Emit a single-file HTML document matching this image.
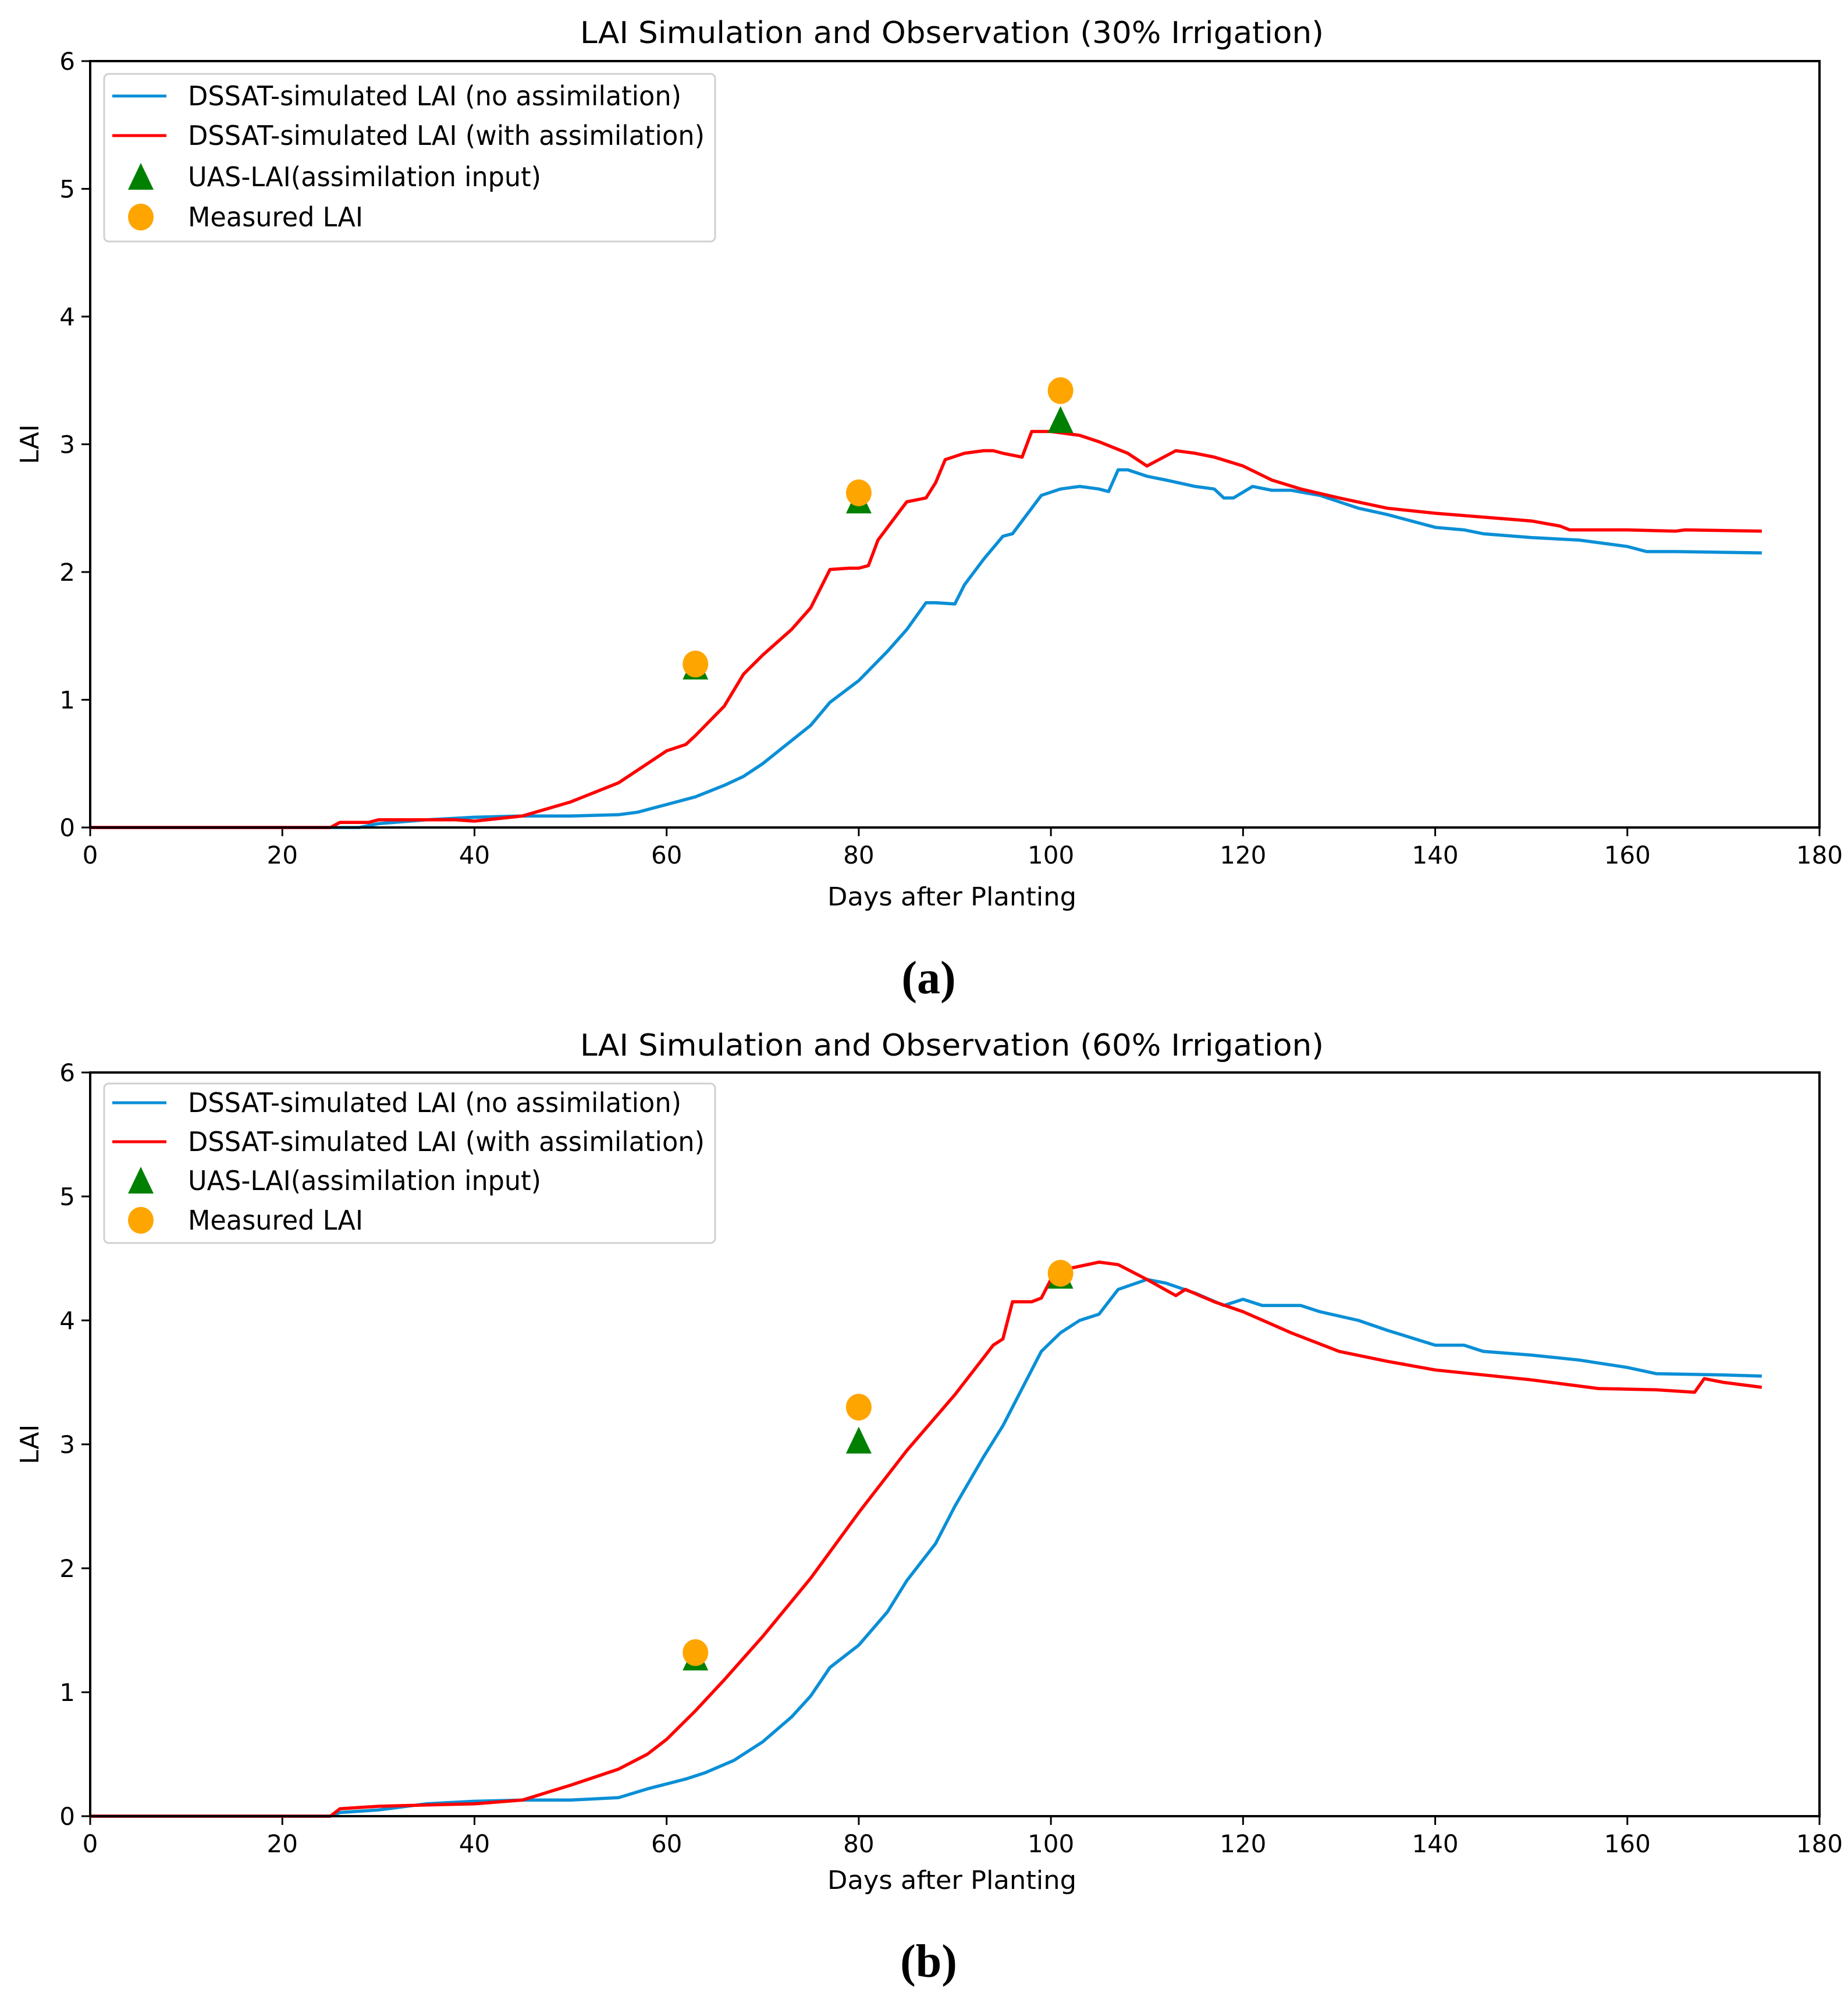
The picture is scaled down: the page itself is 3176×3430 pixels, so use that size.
<!DOCTYPE html>
<html><head><meta charset="utf-8"><style>
html,body{margin:0;padding:0;background:#fff;}
svg{display:block;font-family:"DejaVu Sans","Liberation Sans",sans-serif;}
</style></head><body>
<svg id="fig" width="3176" height="3430" viewBox="0 0 3176 3430" xmlns="http://www.w3.org/2000/svg">
<rect width="3176" height="3430" fill="#fff"/>
</svg>
<script>
// ---- data ----
const xTicks=[0,20,40,60,80,100,120,140,160,180];
const yTicks=[0,1,2,3,4,5,6];
const obsDays=[63,80,101];
// panel a (30% irrigation)
const aBlueDays=[0,28,30,35,40,45,50,55,57,60,63,66,68,70,72,75,77,80,83,85,87,88,90,91,93,95,96,97,99,101,103,105,106,107,108,110,112,115,117,118,119,121,123,125,128,132,135,140,143,145,150,155,160,162,165,174];
const aBlueLAI=[0,0,0.03,0.06,0.08,0.09,0.09,0.1,0.12,0.18,0.24,0.33,0.4,0.5,0.62,0.8,0.98,1.15,1.38,1.55,1.76,1.76,1.75,1.9,2.1,2.28,2.3,2.4,2.6,2.65,2.67,2.65,2.63,2.8,2.8,2.75,2.72,2.67,2.65,2.58,2.58,2.67,2.64,2.64,2.6,2.5,2.45,2.35,2.33,2.3,2.27,2.25,2.2,2.16,2.16,2.15];
const aRedDays=[0,25,26,29,30,38,40,45,50,55,58,60,62,63,66,68,70,73,75,77,79,80,81,82,84,85,87,88,89,91,93,94,95,97,98,100,103,105,108,110,111,113,115,117,120,123,126,130,135,140,145,150,153,154,160,165,166,174];
const aRedLAI=[0,0,0.04,0.04,0.06,0.06,0.05,0.09,0.2,0.35,0.5,0.6,0.65,0.72,0.95,1.2,1.35,1.55,1.72,2.02,2.03,2.03,2.05,2.25,2.45,2.55,2.58,2.7,2.88,2.93,2.95,2.95,2.93,2.9,3.1,3.1,3.07,3.02,2.93,2.83,2.87,2.95,2.93,2.9,2.83,2.72,2.65,2.58,2.5,2.46,2.43,2.4,2.36,2.33,2.33,2.32,2.33,2.32];
const aUAS=[1.25,2.55,3.18];
const aMeasured=[1.28,2.62,3.42];
// panel b (60% irrigation)
const bBlueDays=[0,25,26,30,35,40,45,50,55,58,62,64,67,70,73,75,77,80,83,85,88,90,93,95,97,99,101,103,105,107,110,112,115,118,120,122,124,126,128,132,135,140,143,145,150,155,160,163,170,174];
const bBlueLAI=[0,0,0.03,0.05,0.1,0.12,0.13,0.13,0.15,0.22,0.3,0.35,0.45,0.6,0.8,0.97,1.2,1.38,1.65,1.9,2.2,2.5,2.9,3.15,3.45,3.75,3.9,4.0,4.05,4.25,4.33,4.3,4.22,4.12,4.17,4.12,4.12,4.12,4.07,4.0,3.92,3.8,3.8,3.75,3.72,3.68,3.62,3.57,3.56,3.55];
const bRedDays=[0,25,26,30,35,40,45,50,55,58,60,63,66,70,75,80,85,90,93,94,95,96,98,99,100,102,105,107,110,113,114,117,120,125,130,135,140,145,150,155,157,163,167,168,170,174];
const bRedLAI=[0,0,0.06,0.08,0.09,0.1,0.13,0.25,0.38,0.5,0.62,0.85,1.1,1.45,1.92,2.45,2.95,3.4,3.7,3.8,3.85,4.15,4.15,4.18,4.33,4.42,4.47,4.45,4.33,4.2,4.25,4.15,4.07,3.9,3.75,3.67,3.6,3.56,3.52,3.47,3.45,3.44,3.42,3.53,3.5,3.46];
const bUAS=[1.27,3.02,4.35];
const bMeasured=[1.32,3.3,4.38];

const NS="http://www.w3.org/2000/svg";
const svg=document.getElementById('fig');
function mk(tag,attrs,parent){const e=document.createElementNS(NS,tag);for(const k in attrs)e.setAttribute(k,attrs[k]);(parent||svg).appendChild(e);return e;}

function panel(p){
  const g=mk('g',{});
  
  
  const X0=155,X1=3127,Y0=p.y0,Y6=p.y6;
  const sx=d=>X0+(d/180)*(X1-X0);
  const sy=v=>Y0+(v/6)*(Y6-Y0);
  const t=mk('text',{x:1636,y:p.titleY,'font-size':52,'text-anchor':'middle',textLength:1278,lengthAdjust:'spacingAndGlyphs',fill:'#000'},g);
  t.textContent=p.title;
  
  
  xTicks.forEach(v=>{
    const l=mk('line',{x1:sx(v),x2:sx(v),y1:Y0,y2:Y0+15,stroke:'#000','stroke-width':3},g);
    
    
    const tx=mk('text',{x:sx(v),y:Y0+62,'font-size':42,'text-anchor':'middle',fill:'#000'},g);
    tx.textContent=v;
    
    
  });
  yTicks.forEach(v=>{
    const l=mk('line',{x1:X0-15,x2:X0,y1:sy(v),y2:sy(v),stroke:'#000','stroke-width':3},g);
    
    
    const tx=mk('text',{x:X0-26,y:sy(v)+15,'font-size':42,'text-anchor':'end',fill:'#000'},g);
    tx.textContent=v;
    
    
  });
  const xl=mk('text',{x:1636,y:p.xlabY,'font-size':44,'text-anchor':'middle',textLength:428,lengthAdjust:'spacingAndGlyphs',fill:'#000'},g);
  xl.textContent='Days after Planting';
  
  
  const ymid=(Y0+Y6)/2;
  const yl=mk('text',{x:0,y:0,'font-size':44,'text-anchor':'middle',transform:`translate(66,${ymid}) rotate(-90)`,fill:'#000'},g);
  yl.textContent='LAI';
  
  
  const path=(days,vals,color,name)=>{
    const d=days.map((dd,i)=>(i?'L':'M')+sx(dd).toFixed(1)+','+sy(vals[i]).toFixed(1)).join(' ');
    const e=mk('path',{d:d,fill:'none',stroke:color,'stroke-width':5.5,'stroke-linejoin':'round'},g);
    
    
  };
  path(p.blueD,p.blueV,'#0a8fd6','no-assimilation-line');
  path(p.redD,p.redV,'#ff0000','with-assimilation-line');
  obsDays.forEach((d,i)=>{
    const cx=sx(d),cy=sy(p.uas[i]);
    const tr=mk('polygon',{points:`${cx},${cy-26} ${cx-22},${cy+20} ${cx+22},${cy+20}`,fill:'#008000'},g);
    
    
  });
  obsDays.forEach((d,i)=>{
    const c=mk('ellipse',{cx:sx(d),cy:sy(p.meas[i]),rx:22,ry:23,fill:'#ffa500'},g);
    
    
  });
  const fr=mk('rect',{x:X0,y:Y6,width:X1-X0,height:Y0-Y6,fill:'none',stroke:'#000','stroke-width':4},g);
  
  
  const L=mk('g',{},g);
  
  
  mk('rect',{x:179,y:p.legY,width:1050,height:p.legH,rx:8,fill:'#fff','fill-opacity':0.85,stroke:'#d0d0d0','stroke-width':3},L);
  const rows=p.rows;
  const labels=['DSSAT-simulated LAI (no assimilation)','DSSAT-simulated LAI (with assimilation)','UAS-LAI(assimilation input)','Measured LAI'];
  const widths=[848,888,607,301];
  labels.forEach((lab,i)=>{
    const y=rows[i];
    if(i===0){const e=mk('line',{x1:193,x2:286,y1:y,y2:y,stroke:'#0a8fd6','stroke-width':5},L);}
    if(i===1){const e=mk('line',{x1:193,x2:286,y1:y,y2:y,stroke:'#ff0000','stroke-width':5},L);}
    if(i===2){const e=mk('polygon',{points:`242,${y-24} 220,${y+22} 264,${y+22}`,fill:'#008000'},L);}
    if(i===3){const e=mk('ellipse',{cx:242,cy:y,rx:22,ry:23,fill:'#ffa500'},L);}
    const tx=mk('text',{x:323,y:y+16,'font-size':46,textLength:widths[i],lengthAdjust:'spacingAndGlyphs',fill:'#000'},L);
    tx.textContent=lab;
    
    
  });
  const cap=mk('text',{x:1596,y:p.capY,'font-size':80,'font-weight':'bold','text-anchor':'middle','font-family':'"Liberation Serif",serif',fill:'#000'},g);
  cap.textContent=p.cap;
  
  
}
panel({id:'a',y0:1422,y6:105,titleY:74,xlabY:1556,capY:1707,cap:'(a)',title:'LAI Simulation and Observation (30% Irrigation)',
  blueD:aBlueDays,blueV:aBlueLAI,redD:aRedDays,redV:aRedLAI,uas:aUAS,meas:aMeasured,legY:127,legH:288,rows:[165,233,304,373]});
panel({id:'b',y0:3121,y6:1843,titleY:1814,xlabY:3246,capY:3397,cap:'(b)',title:'LAI Simulation and Observation (60% Irrigation)',
  blueD:bBlueDays,blueV:bBlueLAI,redD:bRedDays,redV:bRedLAI,uas:bUAS,meas:bMeasured,legY:1862,legH:274,rows:[1895,1962,2029,2097]});
</script>
</body></html>
